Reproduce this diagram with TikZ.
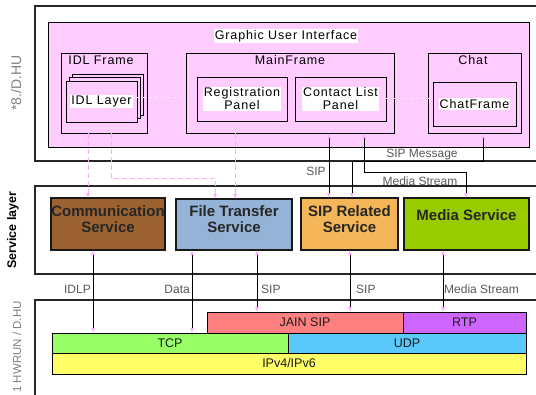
\documentclass[tikz,border=0pt]{standalone}
\usepackage{fontspec}
\setmainfont{Liberation Sans}
\newfontfamily\guifont[LetterSpace=7]{Liberation Sans}
\usetikzlibrary{arrows.meta,calc}

\definecolor{guipink}{RGB}{255,204,255}
\definecolor{tippink}{RGB}{255,170,255}
\definecolor{commbrown}{RGB}{156,98,50}
\definecolor{ftblue}{RGB}{149,179,215}
\definecolor{siporange}{RGB}{244,182,88}
\definecolor{mediagreen}{RGB}{153,204,0}
\definecolor{jainred}{RGB}{255,128,128}
\definecolor{rtppurple}{RGB}{204,102,255}
\definecolor{tcpgreen}{RGB}{153,255,102}
\definecolor{udpblue}{RGB}{91,200,250}
\definecolor{ipyellow}{RGB}{255,255,102}

\tikzset{
  base/.style={anchor=north west, inner sep=0pt, outer sep=0pt},
  layerbox/.style={base, draw=black!85, line width=1.2pt},
  guibox/.style={base, draw=black, line width=1pt, fill=guipink},
  svcbox/.style={base, draw=black!90, line width=1.3pt},
  netbox/.style={base, draw=black, line width=1pt},
  guitext/.style={font=\guifont\fontsize{12.5}{13}\selectfont, inner sep=1pt, align=center},
  whitetext/.style={guitext, fill=white},
  svctext/.style={font=\bfseries\fontsize{15}{16.5}\selectfont, align=center, text=black!85},
  lbl/.style={font=\fontsize{12}{13}\selectfont, text=black!65, inner sep=1pt},
  netlbl/.style={font=\fontsize{12.5}{13}\selectfont, text=black!90},
  sidelbl/.style={rotate=90, text=black!50},
  wire/.style={draw=black, line width=0.9pt,
    {Latex[length=5pt,width=4pt,color=tippink]}-{Latex[length=5pt,width=4pt,color=tippink]}},
  pinkwire/.style={draw=tippink, dashed, dash pattern=on 5pt off 3pt, line width=1pt,
    -{Latex[length=5pt,width=4pt]}},
  faintwire/.style={draw=white!45!guipink, dashed, line width=1pt},
}

\begin{document}
\begin{tikzpicture}[x=1pt,y=-1pt]
\path[use as bounding box] (0,0) rectangle (536,394);
\clip (0,0) rectangle (536,394);

% ---------- layer frames ----------
\node[layerbox, minimum width=510pt, minimum height=155pt] (guiL) at (35,6) {};
\node[layerbox, minimum width=510pt, minimum height=88pt]  (svcL) at (35,186) {};
\node[layerbox, minimum width=510pt, minimum height=100pt] (netL) at (35,300) {};

\node[sidelbl, font=\fontsize{14}{15}\selectfont] (sideA) at (16,83) {*8./D.HU};
\node[sidelbl, text=black, font=\bfseries\fontsize{12.5}{13}\selectfont] (sideB) at (13,230) {Service layer};
\node[sidelbl, font=\fontsize{11.5}{12}\selectfont] (sideC) at (17,347) {1 HWRUN / D.HU};

% ---------- graphic user interface ----------
\node[guibox, minimum width=481pt, minimum height=125pt] (gui) at (48,22) {};
\node[whitetext] (guititle) at (286,36) {Graphic User Interface};

\node[guibox, minimum width=86pt, minimum height=80pt] (idlframe) at (61,53) {};
\node[guitext] (idlframetitle) at (101,60) {IDL Frame};
\node[guibox, minimum width=71pt, minimum height=41pt] (idlback) at (72,74) {};
\node[guibox, minimum width=71pt, minimum height=41pt] (idlmid) at (69,77.5) {};
\node[guibox, minimum width=71pt, minimum height=41pt] (idllayer) at (66,81) {};
\node[whitetext] (idllayertext) at (idllayer.center) {IDL Layer};

\node[guibox, minimum width=208pt, minimum height=80pt] (mainframe) at (186,53) {};
\node[guitext] (mainframetitle) at (290,60) {MainFrame};
\node[guibox, minimum width=90pt, minimum height=44pt] (reg) at (197,77) {};
\node[whitetext] (regtext) at (reg.center) {Registration\\Panel};
\node[guibox, minimum width=91pt, minimum height=44pt] (contact) at (295,77) {};
\node[whitetext] (contacttext) at (contact.center) {Contact List\\Panel};

\node[guibox, minimum width=93pt, minimum height=80pt] (chat) at (428,53) {};
\node[guitext] (chattitle) at (473,60) {Chat};
\node[guibox, minimum width=83pt, minimum height=44pt] (chatframe) at (433,82) {};
\node[whitetext] (chatframetext) at (chatframe.center) {ChatFrame};

\draw[faintwire] (idllayer.east |- 0,97) -- (mainframe.west |- 0,97);
\draw[faintwire] (contact.east |- 0,98) -- (chatframe.west |- 0,98);

% ---------- services ----------
\node[svcbox, fill=commbrown, minimum width=114pt, minimum height=52pt] (comm) at (51,198) {};
\node[svctext, anchor=north] (commtext) at ($(comm.north)+(0,4)$) {Communication\\Service};
\node[svcbox, fill=ftblue, minimum width=116pt, minimum height=51pt] (ft) at (176,199) {};
\node[svctext, anchor=north] (fttext) at ($(ft.north)+(0,3)$) {File Transfer\\Service};
\node[svcbox, fill=siporange, minimum width=97pt, minimum height=52pt] (sipr) at (301,198) {};
\node[svctext, anchor=north] (siprtext) at ($(sipr.north)+(0,4)$) {SIP Related\\Service};
\node[svcbox, fill=mediagreen, minimum width=125pt, minimum height=52pt] (media) at (404,198) {};
\node[svctext, anchor=north] (mediatext) at ($(media.north)+(0,8)$) {Media Service};

% ---------- network stack ----------
\node[netbox, fill=jainred, minimum width=196pt, minimum height=21pt] (jain) at (207,312) {};
\node[netlbl] (jaintext) at (jain.center) {JAIN SIP};
\node[netbox, fill=rtppurple, minimum width=123pt, minimum height=21pt] (rtp) at (403,312) {};
\node[netlbl] (rtptext) at (rtp.center) {RTP};
\node[netbox, fill=tcpgreen, minimum width=236pt, minimum height=20pt] (tcp) at (52,333) {};
\node[netlbl] (tcptext) at (tcp.center) {TCP};
\node[netbox, fill=udpblue, minimum width=238pt, minimum height=20pt] (udp) at (288,333) {};
\node[netlbl] (udptext) at (udp.center) {UDP};
\node[netbox, fill=ipyellow, minimum width=474pt, minimum height=21pt] (ip) at (52,353) {};
\node[netlbl] (iptext) at (ip.center) {IPv4/IPv6};

% ---------- GUI to services ----------
\draw[pinkwire] (idlframe.south -| 88,0) -- (comm.north -| 88,0);
\draw[pinkwire] (idlframe.south -| 111,0) -- (111,178) -- (215,178) -- (ft.north -| 215,0);
\draw[pinkwire] (mainframe.south -| 235,0) -- (ft.north -| 235,0);

\draw[wire] (mainframe.south -| 329,0) -- (sipr.north -| 329,0);
\node[lbl] (sipA) at (316,171) {SIP};
\draw[wire] (chat.south -| 483,0) -- (483,161) -- (352,161) -- (sipr.north -| 352,0);
\node[lbl] (sipmsg) at (422,155) {SIP Message};
\draw[wire] (mainframe.south -| 364,0) -- (364,172) -- (466,172) -- (media.north -| 466,0);
\node[lbl] (mediaA) at (420,181) {Media Stream};

% ---------- services to network ----------
\draw[wire] (comm.south -| 93,0) -- (tcp.north -| 93,0);
\node[lbl, anchor=east] (idlp) at (92,289) {IDLP};
\draw[wire] (ft.south -| 192,0) -- (tcp.north -| 192,0);
\node[lbl, anchor=east] (data) at (191,289) {Data};
\draw[wire] (ft.south -| 257,0) -- (jain.north -| 257,0);
\node[lbl, anchor=west] (sipB) at (260,289) {SIP};
\draw[wire] (sipr.south -| 350,0) -- (jain.north -| 350,0);
\node[lbl, anchor=west] (sipC) at (355,289) {SIP};
\draw[wire] (media.south -| 443,0) -- (rtp.north -| 443,0);
\node[lbl, anchor=west] (mediaB) at (443,289) {Media Stream};
\end{tikzpicture}
\end{document}
